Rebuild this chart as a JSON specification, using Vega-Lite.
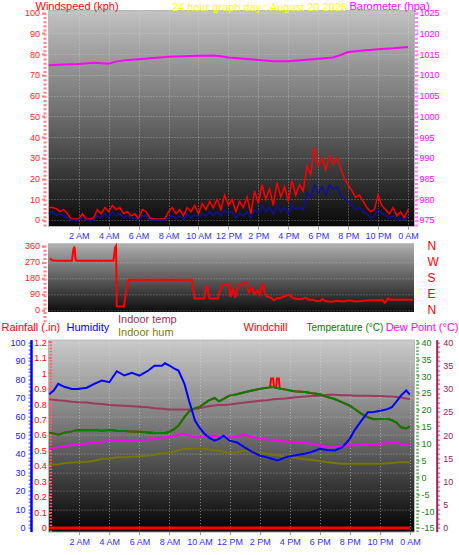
{
  "$schema": "https://vega.github.io/schema/vega-lite/v6.json",
  "background": "white",
  "padding": {"left": 0, "top": 0, "right": 1, "bottom": 4},
  "config": {
    "font": "Liberation Sans",
    "view": {"stroke": null},
    "axis": {"labelFont": "Liberation Sans", "titleFont": "Liberation Sans", "titleFontWeight": "normal", "titleFontSize": 11, "labelFontSize": 9, "labelOverlap": false, "labelFlush": false, "labelBound": false, "grid": false, "tickCount": 500},
    "title": {"font": "Liberation Sans", "fontWeight": "normal", "subtitleFont": "Liberation Sans"}
  },
  "datasets": {
    "wind": [
      {"h":0,"gust":6,"avg":3},{"h":0.25,"gust":6,"avg":4},{"h":0.5,"gust":5.5,"avg":2},{"h":0.75,"gust":4,"avg":3},{"h":1,"gust":5,"avg":2},{"h":1.25,"gust":3,"avg":1},{"h":1.5,"gust":0.5,"avg":0},{"h":1.75,"gust":0.5,"avg":0},{"h":2,"gust":0.5,"avg":0},{"h":2.25,"gust":3,"avg":1},{"h":2.5,"gust":0.5,"avg":0},{"h":2.75,"gust":0.5,"avg":0},{"h":3,"gust":1,"avg":0},{"h":3.25,"gust":5,"avg":2},{"h":3.5,"gust":3,"avg":1},{"h":3.75,"gust":6,"avg":3},{"h":4,"gust":4,"avg":1},{"h":4.25,"gust":7,"avg":4},{"h":4.5,"gust":5,"avg":2},{"h":4.75,"gust":6,"avg":3},{"h":5,"gust":3,"avg":1},{"h":5.25,"gust":4,"avg":2},{"h":5.5,"gust":2,"avg":1},{"h":5.75,"gust":3,"avg":1},{"h":6,"gust":0.5,"avg":0},{"h":6.25,"gust":5,"avg":2},{"h":6.5,"gust":4,"avg":2},{"h":6.75,"gust":1,"avg":0},{"h":7,"gust":0.5,"avg":0},{"h":7.25,"gust":0.5,"avg":0},{"h":7.5,"gust":0.5,"avg":0},{"h":7.75,"gust":0.5,"avg":0},{"h":8,"gust":4,"avg":1},{"h":8.25,"gust":6,"avg":2},{"h":8.5,"gust":3,"avg":1},{"h":8.75,"gust":5,"avg":2},{"h":9,"gust":2,"avg":0},{"h":9.25,"gust":6,"avg":3},{"h":9.5,"gust":4,"avg":1},{"h":9.75,"gust":7,"avg":3},{"h":10,"gust":3,"avg":1},{"h":10.25,"gust":8,"avg":3},{"h":10.5,"gust":5,"avg":2},{"h":10.75,"gust":9,"avg":4},{"h":11,"gust":6,"avg":2},{"h":11.25,"gust":10,"avg":4},{"h":11.5,"gust":5,"avg":2},{"h":11.75,"gust":12,"avg":5},{"h":12,"gust":7,"avg":3},{"h":12.25,"gust":10,"avg":4},{"h":12.5,"gust":4,"avg":1},{"h":12.75,"gust":9,"avg":3},{"h":13,"gust":6,"avg":2},{"h":13.25,"gust":11,"avg":4},{"h":13.5,"gust":3,"avg":1},{"h":13.75,"gust":14,"avg":5},{"h":14,"gust":8,"avg":3},{"h":14.25,"gust":17,"avg":7},{"h":14.5,"gust":10,"avg":4},{"h":14.75,"gust":15,"avg":6},{"h":15,"gust":7,"avg":3},{"h":15.25,"gust":18,"avg":7},{"h":15.5,"gust":11,"avg":4},{"h":15.75,"gust":16,"avg":6},{"h":16,"gust":9,"avg":3},{"h":16.25,"gust":19,"avg":7},{"h":16.5,"gust":12,"avg":5},{"h":16.75,"gust":17,"avg":6},{"h":17,"gust":14,"avg":5},{"h":17.25,"gust":26,"avg":13},{"h":17.5,"gust":22,"avg":11},{"h":17.75,"gust":35,"avg":17},{"h":18,"gust":26,"avg":13},{"h":18.25,"gust":30,"avg":16},{"h":18.5,"gust":24,"avg":12},{"h":18.75,"gust":31,"avg":17},{"h":19,"gust":27,"avg":15},{"h":19.25,"gust":30,"avg":16},{"h":19.5,"gust":25,"avg":12},{"h":19.75,"gust":20,"avg":10},{"h":20,"gust":17,"avg":9},{"h":20.25,"gust":14,"avg":7},{"h":20.5,"gust":11,"avg":5},{"h":20.75,"gust":12,"avg":6},{"h":21,"gust":9,"avg":4},{"h":21.25,"gust":6,"avg":3},{"h":21.5,"gust":4,"avg":1},{"h":21.75,"gust":5,"avg":2},{"h":22,"gust":12,"avg":5},{"h":22.25,"gust":7,"avg":3},{"h":22.5,"gust":5,"avg":2},{"h":22.75,"gust":3,"avg":1},{"h":23,"gust":6,"avg":2},{"h":23.25,"gust":2,"avg":0},{"h":23.5,"gust":4,"avg":1},{"h":23.75,"gust":1,"avg":0},{"h":24,"gust":5,"avg":2}
    ],
    "baro": [
      {"h":0,"p":1012.3},{"h":1,"p":1012.5},{"h":2,"p":1012.6},{"h":3,"p":1012.9},{"h":4,"p":1012.7},{"h":4.5,"p":1013.2},{"h":5,"p":1013.5},{"h":6,"p":1013.8},{"h":7,"p":1014.1},{"h":8,"p":1014.4},{"h":9,"p":1014.5},{"h":10,"p":1014.6},{"h":11,"p":1014.7},{"h":11.5,"p":1014.5},{"h":12,"p":1014.2},{"h":13,"p":1013.9},{"h":14,"p":1013.6},{"h":15,"p":1013.3},{"h":16,"p":1013.3},{"h":17,"p":1013.6},{"h":18,"p":1013.9},{"h":19,"p":1014.2},{"h":19.5,"p":1014.8},{"h":20,"p":1015.5},{"h":21,"p":1015.9},{"h":22,"p":1016.2},{"h":23,"p":1016.4},{"h":24,"p":1016.7}
    ],
    "dir": [
      {"h":0,"d":290},{"h":0.15,"d":280},{"h":0.4,"d":277},{"h":1.45,"d":277},{"h":1.55,"d":340},{"h":1.62,"d":356},{"h":1.7,"d":280},{"h":1.8,"d":277},{"h":4.2,"d":277},{"h":4.3,"d":350},{"h":4.37,"d":360},{"h":4.42,"d":20},{"h":4.5,"d":19},{"h":4.9,"d":20},{"h":5.05,"d":120},{"h":5.2,"d":170},{"h":9.4,"d":170},{"h":9.55,"d":65},{"h":10.2,"d":65},{"h":10.35,"d":140},{"h":10.45,"d":110},{"h":10.55,"d":65},{"h":11.1,"d":65},{"h":11.3,"d":130},{"h":11.5,"d":145},{"h":11.8,"d":145},{"h":11.95,"d":75},{"h":12.1,"d":120},{"h":12.25,"d":70},{"h":12.45,"d":140},{"h":12.8,"d":150},{"h":13,"d":150},{"h":13.15,"d":100},{"h":13.35,"d":124},{"h":13.5,"d":90},{"h":13.7,"d":110},{"h":13.85,"d":85},{"h":14.03,"d":150},{"h":14.2,"d":95},{"h":14.35,"d":75},{"h":14.6,"d":70},{"h":14.8,"d":55},{"h":15,"d":65},{"h":15.3,"d":70},{"h":15.6,"d":80},{"h":15.8,"d":88},{"h":16,"d":70},{"h":16.3,"d":62},{"h":16.6,"d":60},{"h":16.9,"d":70},{"h":17.1,"d":58},{"h":17.4,"d":58},{"h":17.6,"d":50},{"h":17.9,"d":52},{"h":18,"d":62},{"h":18.2,"d":50},{"h":18.6,"d":46},{"h":19,"d":52},{"h":19.4,"d":48},{"h":19.8,"d":55},{"h":20.2,"d":48},{"h":20.6,"d":50},{"h":21.1,"d":55},{"h":21.5,"d":55},{"h":22,"d":56},{"h":22.15,"d":40},{"h":22.35,"d":65},{"h":22.5,"d":58},{"h":23,"d":58},{"h":23.5,"d":58},{"h":24,"d":58}
    ],
    "clim": [
      {"h":0,"hum":72,"ihum":34.1,"temp":13.2,"dew":8.5,"itemp":27.7},
      {"h":0.3,"hum":74,"ihum":34.1,"temp":13.0,"dew":8.7,"itemp":27.6},
      {"h":0.6,"hum":77.6,"ihum":34.3,"temp":12.6,"dew":8.9,"itemp":27.5},
      {"h":1,"hum":76,"ihum":34.8,"temp":13.2,"dew":9.2,"itemp":27.4},
      {"h":1.5,"hum":74.9,"ihum":35.2,"temp":13.6,"dew":9.5,"itemp":27.2},
      {"h":1.9,"hum":74.9,"ihum":35.4,"temp":14.0,"dew":9.7,"itemp":27.1},
      {"h":2.5,"hum":75.5,"ihum":35.6,"temp":13.9,"dew":10.0,"itemp":27.0},
      {"h":3,"hum":77.6,"ihum":36.2,"temp":14.0,"dew":10.3,"itemp":26.8},
      {"h":3.5,"hum":79.4,"ihum":37.2,"temp":13.8,"dew":10.5,"itemp":26.7},
      {"h":4,"hum":78.5,"ihum":37.4,"temp":14.0,"dew":10.8,"itemp":26.5},
      {"h":4.5,"hum":84.4,"ihum":38.0,"temp":13.8,"dew":11.1,"itemp":26.4},
      {"h":5,"hum":82.1,"ihum":38.0,"temp":13.7,"dew":11.0,"itemp":26.3},
      {"h":5.5,"hum":83.5,"ihum":38.3,"temp":13.6,"dew":11.0,"itemp":26.2},
      {"h":6,"hum":82,"ihum":38.6,"temp":13.5,"dew":11.1,"itemp":26.1},
      {"h":6.6,"hum":84.8,"ihum":39.0,"temp":13.3,"dew":11.1,"itemp":26.0},
      {"h":7,"hum":87.4,"ihum":39.4,"temp":13.1,"dew":11.4,"itemp":25.8},
      {"h":7.5,"hum":87.4,"ihum":40.2,"temp":13.1,"dew":11.8,"itemp":25.7},
      {"h":7.7,"hum":88.7,"ihum":40.2,"temp":13.1,"dew":11.8,"itemp":25.6},
      {"h":8,"hum":87.4,"ihum":40.6,"temp":13.5,"dew":12.0,"itemp":25.5},
      {"h":8.3,"hum":86,"ihum":41.2,"temp":14.2,"dew":12.2,"itemp":25.5},
      {"h":8.6,"hum":84.8,"ihum":41.8,"temp":15.3,"dew":12.5,"itemp":25.5},
      {"h":9,"hum":77.6,"ihum":42.6,"temp":17.8,"dew":12.9,"itemp":25.5},
      {"h":9.3,"hum":68.6,"ihum":42.6,"temp":19.5,"dew":12.4,"itemp":25.5},
      {"h":9.7,"hum":57.8,"ihum":42.6,"temp":20.5,"dew":11.8,"itemp":25.6},
      {"h":10,"hum":54,"ihum":42.6,"temp":20.8,"dew":11.9,"itemp":25.8},
      {"h":10.3,"hum":51,"ihum":42.6,"temp":21.8,"dew":12.0,"itemp":26.0},
      {"h":10.6,"hum":48.8,"ihum":42.2,"temp":22.7,"dew":12.2,"itemp":26.2},
      {"h":11,"hum":47,"ihum":41.8,"temp":23.5,"dew":12.3,"itemp":26.4},
      {"h":11.3,"hum":48,"ihum":41.6,"temp":22.5,"dew":12.0,"itemp":26.5},
      {"h":11.6,"hum":49.7,"ihum":41.0,"temp":23.2,"dew":11.9,"itemp":26.5},
      {"h":12,"hum":47,"ihum":40.2,"temp":24.2,"dew":11.8,"itemp":26.6},
      {"h":12.5,"hum":46,"ihum":40.8,"temp":24.6,"dew":12.2,"itemp":26.8},
      {"h":13,"hum":43.4,"ihum":41.6,"temp":25.2,"dew":12.6,"itemp":27.0},
      {"h":13.5,"hum":41,"ihum":41.0,"temp":25.7,"dew":12.0,"itemp":27.2},
      {"h":14,"hum":39,"ihum":40.4,"temp":26.2,"dew":11.4,"itemp":27.4},
      {"h":14.5,"hum":38,"ihum":39.8,"temp":26.5,"dew":11.2,"itemp":27.5},
      {"h":14.7,"hum":37.5,"ihum":39.6,"temp":26.7,"dew":11.1,"itemp":27.6},
      {"h":14.9,"hum":37,"ihum":39.4,"temp":26.7,"dew":11.0,"itemp":27.7},
      {"h":15.2,"hum":36.3,"ihum":39.0,"temp":26.4,"dew":10.9,"itemp":27.8},
      {"h":15.7,"hum":38,"ihum":38.4,"temp":26.0,"dew":10.6,"itemp":27.9},
      {"h":16.3,"hum":39,"ihum":37.8,"temp":25.5,"dew":10.4,"itemp":28.1},
      {"h":17,"hum":39.9,"ihum":37.0,"temp":25.3,"dew":10.2,"itemp":28.3},
      {"h":17.5,"hum":41,"ihum":36.6,"temp":24.9,"dew":9.9,"itemp":28.4},
      {"h":18,"hum":42.6,"ihum":36.0,"temp":24.6,"dew":9.5,"itemp":28.5},
      {"h":18.5,"hum":42,"ihum":35.4,"temp":23.8,"dew":8.9,"itemp":28.7},
      {"h":19,"hum":41.7,"ihum":35.0,"temp":23.2,"dew":9.0,"itemp":28.7},
      {"h":19.5,"hum":43.5,"ihum":34.6,"temp":22.2,"dew":9.3,"itemp":28.6},
      {"h":20,"hum":48,"ihum":34.5,"temp":21.2,"dew":9.5,"itemp":28.6},
      {"h":20.3,"hum":52.4,"ihum":34.5,"temp":20.3,"dew":9.5,"itemp":28.5},
      {"h":20.7,"hum":57,"ihum":34.5,"temp":19.0,"dew":9.6,"itemp":28.5},
      {"h":21.2,"hum":62.3,"ihum":34.5,"temp":17.8,"dew":9.7,"itemp":28.5},
      {"h":21.6,"hum":62.5,"ihum":34.5,"temp":17.2,"dew":9.8,"itemp":28.4},
      {"h":22.1,"hum":63.2,"ihum":34.5,"temp":17.3,"dew":9.9,"itemp":28.4},
      {"h":22.5,"hum":64,"ihum":34.8,"temp":17.3,"dew":10.1,"itemp":28.3},
      {"h":22.8,"hum":65,"ihum":35.0,"temp":16.9,"dew":10.3,"itemp":28.3},
      {"h":23.1,"hum":68,"ihum":35.2,"temp":16.2,"dew":10.4,"itemp":28.2},
      {"h":23.4,"hum":71.3,"ihum":35.4,"temp":14.8,"dew":9.8,"itemp":28.1},
      {"h":23.75,"hum":74,"ihum":35.4,"temp":14.5,"dew":9.6,"itemp":27.9},
      {"h":24,"hum":71.8,"ihum":35.4,"temp":15.0,"dew":9.6,"itemp":27.8}
    ],
    "chill": [
      {"h":0,"c":13.2},{"h":0.3,"c":13.0},{"h":0.6,"c":12.6},{"h":1,"c":13.2},{"h":1.5,"c":13.6},{"h":1.9,"c":14.0},{"h":2.5,"c":13.9},{"h":3,"c":14.0},{"h":3.5,"c":13.8},{"h":4,"c":14.0},{"h":4.5,"c":13.8},{"h":5,"c":13.7},{"h":5.5,"c":13.6},{"h":6,"c":13.5},{"h":6.6,"c":13.3},{"h":7,"c":13.1},{"h":7.5,"c":13.1},{"h":7.7,"c":13.1},{"h":8,"c":13.5},{"h":8.3,"c":14.2},{"h":8.6,"c":15.3},{"h":9,"c":17.8},{"h":9.3,"c":19.5},{"h":9.7,"c":20.5},{"h":10,"c":20.8},{"h":10.3,"c":21.8},{"h":10.6,"c":22.7},{"h":11,"c":23.5},{"h":11.3,"c":22.5},{"h":11.6,"c":23.2},{"h":12,"c":24.2},{"h":12.5,"c":24.6},{"h":13,"c":25.2},{"h":13.5,"c":25.7},{"h":14,"c":26.2},{"h":14.5,"c":26.5},{"h":14.7,"c":26.7},{"h":14.76,"c":29.3},{"h":14.9,"c":29.3},{"h":14.95,"c":26.7},{"h":15.1,"c":26.6},{"h":15.15,"c":29.3},{"h":15.28,"c":29.3},{"h":15.33,"c":26.35},{"h":15.7,"c":26.0},{"h":16.3,"c":25.5},{"h":17,"c":25.3},{"h":17.5,"c":24.9},{"h":18,"c":24.6},{"h":18.5,"c":23.8},{"h":19,"c":23.2},{"h":19.5,"c":22.2},{"h":20,"c":21.2},{"h":20.3,"c":20.3},{"h":20.7,"c":19.0},{"h":21.2,"c":17.8},{"h":21.6,"c":17.2},{"h":22.1,"c":17.3},{"h":22.5,"c":17.3},{"h":22.8,"c":16.9},{"h":23.1,"c":16.2},{"h":23.4,"c":14.8},{"h":23.75,"c":14.5},{"h":24,"c":15.0}
    ],
    "rain": [{"h":0,"r":0},{"h":24,"r":0}]
  },
  "bounds": "flush",
  "spacing": 17.3,
  "vconcat": [
    {
      "width": 366,
      "height": 216,
      "view": {"stroke": "#b8b8b8", "fill": {"gradient": "linear", "x1": 0, "y1": 0, "x2": 0, "y2": 1, "stops": [{"offset": 0, "color": "#c2c2c2"}, {"offset": 0.5, "color": "#6a6a6a"}, {"offset": 1, "color": "#080808"}]}},
      "title": {"text": "24 hour graph day : August 20 2026", "color": "#ffff00", "fontSize": 11, "anchor": "start", "frame": "group", "dx": 124, "offset": -12.5},
      "layer": [
        {
          "data": {"name": "wind"},
          "layer": [
            {
              "mark": {"type": "line", "color": "#ff0000", "strokeWidth": 1.5},
              "encoding": {
                "x": {"field": "h", "type": "quantitative", "scale": {"domain": [-0.05, 24.4], "nice": false, "zero": false}, "axis": {"values": [2,4,6,8,10,12,14,16,18,20,22,24], "tickCount": 500, "labelExpr": "datum.value == 24 ? '0 AM' : datum.value < 12 ? datum.value + ' AM' : datum.value == 12 ? '12 PM' : (datum.value - 12) + ' PM'", "labelOverlap": false, "labelColor": "#3030ff", "labelFontSize": 9, "labelPadding": 2, "labelDx": -3, "tickSize": 3, "tickColor": "#999999", "domain": false, "grid": true, "gridColor": "#dddddd", "gridDash": [1, 2], "gridOpacity": 0.55, "title": null}},
                "y": {"field": "gust", "type": "quantitative", "scale": {"domain": [-2.9, 101.3], "nice": false, "zero": false}, "axis": {"values": [0,10,20,30,40,50,60,70,80,90,100], "tickCount": 500, "labelExpr": "'' + datum.value", "labelOverlap": false, "labelColor": "#ff2020", "labelFontSize": 9, "labelPadding": 2, "offset": 3.5, "tickSize": 3, "tickColor": "#ff8080", "tickWidth": 2, "domainColor": "#ff8080", "domainWidth": 3, "domainDash": [2, 2.15], "grid": true, "gridColor": "#dddddd", "gridDash": [1, 2], "gridOpacity": 0.5, "title": "Windspeed (kph)", "titleColor": "#ff0000", "titleFontSize": 11, "titleAngle": 0, "titleAlign": "left", "titleBaseline": "alphabetic", "titleX": -9.5, "titleY": -0.5}}
              }
            },
            {
              "mark": {"type": "line", "color": "#10109a", "strokeWidth": 1.5},
              "encoding": {
                "x": {"field": "h", "type": "quantitative"},
                "y": {"field": "avg", "type": "quantitative"}
              }
            }
          ]
        },
        {
          "data": {"name": "baro"},
          "mark": {"type": "line", "color": "#ff00ff", "strokeWidth": 2},
          "encoding": {
            "x": {"field": "h", "type": "quantitative"},
            "y": {"field": "p", "type": "quantitative", "scale": {"domain": [973.55, 1025.65], "nice": false, "zero": false}, "axis": {"orient": "right", "values": [975,980,985,990,995,1000,1005,1010,1015,1020,1025], "tickCount": 500, "labelExpr": "'' + datum.value", "labelOverlap": false, "labelColor": "#ff00ff", "labelFontSize": 9, "labelPadding": 1, "offset": 2, "tickSize": 2, "tickColor": "#ff80ff", "tickWidth": 2, "domainColor": "#ff80ff", "domainWidth": 3, "domainDash": [2, 2.15], "title": "Barometer (hpa)", "titleColor": "#ff00ff", "titleFontSize": 11, "titleAngle": 0, "titleAlign": "left", "titleBaseline": "alphabetic", "titleX": -67, "titleY": -0.5}}
          }
        }
      ],
      "resolve": {"scale": {"y": "independent"}}
    },
    {
      "width": 366,
      "height": 78.4,
      "view": {"stroke": null, "fill": {"gradient": "linear", "x1": 0, "y1": 0, "x2": 0, "y2": 1, "stops": [{"offset": 0, "color": "#b0b0b0"}, {"offset": 0.88, "color": "#0c0c0c"}, {"offset": 0.8801, "color": "rgba(255,255,255,0)"}, {"offset": 1, "color": "rgba(255,255,255,0)"}]}},
      "data": {"name": "dir"},
      "layer": [
        {
          "mark": {"type": "line", "color": "#ff0000", "strokeWidth": 2},
          "encoding": {
            "x": {"field": "h", "type": "quantitative", "scale": {"domain": [-0.13, 24.07], "nice": false, "zero": false}, "axis": {"values": [2,4,6,8,10,12,14,16,18,20,22], "tickCount": 500, "labels": false, "ticks": false, "domain": false, "grid": false, "title": null}},
            "y": {"field": "d", "type": "quantitative", "scale": {"domain": [-65.8, 375], "nice": false, "zero": false}, "axis": {"values": [0,90,180,270,360], "tickCount": 500, "labelExpr": "'' + datum.value", "labelOverlap": false, "labelColor": "#ff2020", "labelFontSize": 9, "labelPadding": 2, "offset": 3.5, "tickSize": 3, "tickColor": "#ff8080", "tickWidth": 2, "domainColor": "#ff8080", "domainWidth": 3, "domainDash": [2, 2.15], "grid": true, "gridColor": "#dddddd", "gridDash": [1, 2], "gridOpacity": 0.45, "title": null}}
          }
        },
        {
          "mark": {"type": "line", "opacity": 0},
          "encoding": {
            "x": {"field": "h", "type": "quantitative"},
            "y": {"field": "d", "type": "quantitative", "scale": {"domain": [-65.8, 375], "nice": false, "zero": false}, "axis": {"orient": "right", "values": [0,90,180,270,360], "tickCount": 500, "labelExpr": "datum.value == 90 ? 'E' : datum.value == 180 ? 'S' : datum.value == 270 ? 'W' : 'N'", "labelOverlap": false, "labelColor": "#ff0000", "labelFontSize": 12, "labelPadding": 13, "ticks": false, "domain": false, "grid": false, "title": null}}
          }
        }
      ],
      "resolve": {"scale": {"y": "independent"}}
    },
    {
      "width": 366,
      "height": 192,
      "view": {"stroke": "#b8b8b8", "fill": {"gradient": "linear", "x1": 0, "y1": 0, "x2": 0, "y2": 1, "stops": [{"offset": 0, "color": "#cacaca"}, {"offset": 0.5, "color": "#6e6e6e"}, {"offset": 1, "color": "#020202"}]}},
      "title": {"text": "Indoor temp", "subtitle": "Indoor hum", "color": "#a0305a", "subtitleColor": "#808000", "fontSize": 11, "subtitleFontSize": 11, "anchor": "start", "frame": "group", "dx": 70, "offset": -17, "subtitlePadding": 2},
      "data": {"name": "clim"},
      "layer": [
        {
          "mark": {"type": "line", "color": "#9c3a5e", "strokeWidth": 2},
          "encoding": {
            "x": {"field": "h", "type": "quantitative", "scale": {"domain": [-0.08, 24.27], "nice": false, "zero": false}, "axis": {"values": [2,4,6,8,10,12,14,16,18,20,22,24], "tickCount": 500, "labelExpr": "datum.value == 24 ? '0 AM' : datum.value < 12 ? datum.value + ' AM' : datum.value == 12 ? '12 PM' : (datum.value - 12) + ' PM'", "labelOverlap": false, "labelColor": "#3030ff", "labelFontSize": 9, "labelPadding": 3, "tickSize": 3, "tickColor": "#999999", "domain": false, "grid": true, "gridColor": "#dddddd", "gridDash": [1, 2], "gridOpacity": 0.55, "title": "Windchill", "titleColor": "#ff0000", "titleFontSize": 11, "titleAngle": 0, "titleAlign": "left", "titleBaseline": "alphabetic", "titleX": 195, "titleY": -201.5}},
            "y": {"field": "itemp", "type": "quantitative", "scale": {"domain": [-0.8, 40.58], "nice": false, "zero": false}, "axis": {"orient": "right", "offset": 22.7, "values": [0,1,2,3,4,5,6,7,8,9,10,11,12,13,14,15,16,17,18,19,20,21,22,23,24,25,26,27,28,29,30,31,32,33,34,35,36,37,38,39,40], "tickCount": 500, "labelExpr": "datum.value % 5 == 0 ? '' + datum.value : ''", "labelOverlap": false, "labelColor": "#a0205a", "labelFontSize": 9, "labelPadding": 3, "tickSize": 3, "tickColor": "#c04070", "domainColor": "#a0205a", "domainWidth": 2, "title": "Dew Point (°C)", "titleColor": "#ff00ff", "titleFontSize": 11, "titleAngle": 0, "titleAlign": "right", "titleBaseline": "alphabetic", "titleX": 21.3, "titleY": -9.5}}
          }
        },
        {
          "layer": [
            {
              "data": {"name": "chill"},
              "mark": {"type": "line", "color": "#ff0000", "strokeWidth": 2},
              "encoding": {
                "x": {"field": "h", "type": "quantitative"},
                "y": {"field": "c", "type": "quantitative", "scale": {"domain": [-16.1, 40.8], "nice": false, "zero": false}, "axis": {"orient": "right", "offset": 3, "values": [-15,-10,-5,0,5,10,15,20,25,30,35,40], "tickCount": 500, "labelExpr": "'' + datum.value", "labelOverlap": false, "labelColor": "#108010", "labelFontSize": 9, "labelPadding": 2, "tickSize": 2, "tickColor": "#60b060", "tickWidth": 2, "domainColor": "#60b060", "domainWidth": 2.5, "domainDash": [1.7, 1.7], "title": "Temperature (°C)", "titleColor": "#008000", "titleFontSize": 10, "titleAngle": 0, "titleAlign": "left", "titleBaseline": "alphabetic", "titleX": -111, "titleY": -9.5}}
              }
            },
            {
              "mark": {"type": "line", "color": "#008000", "strokeWidth": 2},
              "encoding": {
                "x": {"field": "h", "type": "quantitative"},
                "y": {"field": "temp", "type": "quantitative"}
              }
            },
            {
              "mark": {"type": "line", "color": "#ff00ff", "strokeWidth": 2},
              "encoding": {
                "x": {"field": "h", "type": "quantitative"},
                "y": {"field": "dew", "type": "quantitative"}
              }
            }
          ]
        },
        {
          "layer": [
            {
              "mark": {"type": "line", "color": "#767600", "strokeWidth": 2},
              "encoding": {
                "x": {"field": "h", "type": "quantitative"},
                "y": {"field": "ihum", "type": "quantitative", "scale": {"domain": [-2, 101.45], "nice": false, "zero": false}, "axis": {"orient": "left", "offset": 17, "values": [0,2,4,6,8,10,12,14,16,18,20,22,24,26,28,30,32,34,36,38,40,42,44,46,48,50,52,54,56,58,60,62,64,66,68,70,72,74,76,78,80,82,84,86,88,90,92,94,96,98,100], "tickCount": 500, "labelExpr": "datum.value % 10 == 0 ? '' + datum.value : ''", "labelOverlap": false, "labelColor": "#2020ff", "labelFontSize": 9, "labelPadding": 3, "tickSize": 3, "tickColor": "#4040ff", "domainColor": "#0000ff", "domainWidth": 2.5, "grid": true, "gridColor": "#dddddd", "gridDash": [1, 2], "gridOpacity": {"condition": {"test": "datum.value % 10 == 0", "value": 0.5}, "value": 0}, "title": "Humidity", "titleColor": "#0000ff", "titleFontSize": 11, "titleAngle": 0, "titleAlign": "left", "titleBaseline": "alphabetic", "titleX": 35, "titleY": -9.5}}
              }
            },
            {
              "mark": {"type": "line", "color": "#0000ff", "strokeWidth": 2},
              "encoding": {
                "x": {"field": "h", "type": "quantitative"},
                "y": {"field": "hum", "type": "quantitative"}
              }
            }
          ]
        },
        {
          "data": {"name": "rain"},
          "mark": {"type": "line", "color": "#ff0000", "strokeWidth": 3},
          "encoding": {
            "x": {"field": "h", "type": "quantitative"},
            "y": {"field": "r", "type": "quantitative", "scale": {"domain": [-0.024, 1.216], "nice": false, "zero": false}, "axis": {"orient": "left", "offset": -2.3, "values": [0,0.1,0.2,0.3,0.4,0.5,0.6,0.7,0.8,0.9,1,1.1,1.2], "tickCount": 500, "labelExpr": "format(datum.value, '.1~f')", "labelOverlap": false, "labelColor": "#ff0000", "labelFontSize": 9, "labelPadding": 2, "tickSize": 2, "tickColor": "#ff6060", "tickWidth": 2, "domainColor": "#ff6060", "domainWidth": 2.5, "domainDash": [1.5, 1.6], "title": "Rainfall (.in)", "titleColor": "#ff0000", "titleFontSize": 11, "titleAngle": 0, "titleAlign": "left", "titleBaseline": "alphabetic", "titleX": -49.3, "titleY": -9.5}}
          }
        }
      ],
      "resolve": {"scale": {"y": "independent"}}
    }
  ]
}
